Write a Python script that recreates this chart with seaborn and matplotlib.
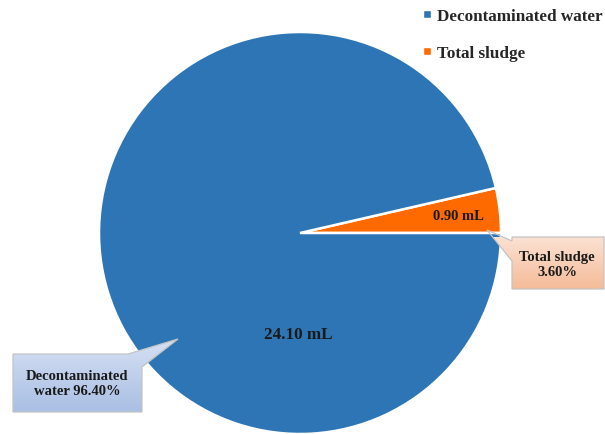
import matplotlib
matplotlib.use("Agg")
import matplotlib.pyplot as plt
import seaborn as sns
import numpy as np
from matplotlib.lines import Line2D
from matplotlib.patches import Polygon
from matplotlib.colors import LinearSegmentedColormap

categories = ["Total sludge", "Decontaminated water"]
volumes_ml = [0.90, 24.10]
percentages = [3.60, 96.40]
colors = ["#FF6A00", "#2E75B6"]
box_grad = [("#FBE2D3", "#F5BB98"), ("#D6E0F3", "#A9BFE4")]

sns.set_theme(style="white")
plt.rcParams['font.family'] = ['Liberation Serif', 'DejaVu Serif']

W, H, CX, CY, R = 605, 435, 300, 234, 201


def px(x, y):
    """Convert pixel position (from top-left) to data coordinates of the pie axes."""
    return ((x - CX) / R, (CY - y) / R)


fig = plt.figure(figsize=(6.05, 4.35), dpi=100)
ax = fig.add_axes([0, 0, 1, 1])
wedges, _ = ax.pie(volumes_ml, colors=colors, startangle=0, counterclock=True,
                   radius=1, wedgeprops=dict(edgecolor='white', linewidth=1.8))
ax.set_xlim(-CX / R, (W - CX) / R)
ax.set_ylim(-(H - CY) / R, CY / R)
ax.set_aspect('equal')
ax.axis('off')

# value labels inside
x0, y0 = px(458, 217)
ax.text(x0, y0, f"{volumes_ml[0]:.2f} mL", ha='center', va='center',
        fontsize=10.5, fontweight='bold', color='#1a1a1a')
x1, y1 = px(298, 333)
ax.text(x1, y1, f"{volumes_ml[1]:.2f} mL", ha='center', va='center_baseline',
        fontsize=12.3, fontweight='bold', color='#1a1a1a')


def callout(poly_px, box_px, text, text_px, grad):
    verts = [px(*p) for p in poly_px]
    patch = Polygon(verts, closed=True, fc='none', ec='#C4C4C4', lw=0.9, zorder=5)
    ax.add_patch(patch)
    (bx0, by0), (bx1, by1) = px(*box_px[0]), px(*box_px[1])
    xs = [v[0] for v in verts]
    ys = [v[1] for v in verts]
    cmap = LinearSegmentedColormap.from_list("g", [grad[1], grad[0]])
    grad_arr = np.linspace(0, 1, 256).reshape(-1, 1)
    im = ax.imshow(grad_arr, cmap=cmap, origin='lower', aspect='auto',
                   extent=[min(xs), max(xs), by1, by0], zorder=4, interpolation='bicubic')
    im.set_clip_path(patch)
    tx, ty = px(*text_px)
    ax.text(tx, ty, text, ha='center', va='center', fontsize=10.5, fontweight='bold',
            color='#1a1a1a', linespacing=1.2, zorder=6)


callout([(512, 238), (604, 238), (604, 290), (512, 290), (512, 262), (487, 231), (512, 242)],
        [(512, 238), (604, 290)], f"{categories[0]}\n{percentages[0]:.2f}%", (557, 265), box_grad[0])
callout([(13, 355), (128, 355), (178, 340), (142, 368), (142, 413), (13, 413)],
        [(13, 340), (142, 413)], "Decontaminated\nwater " + f"{percentages[1]:.2f}%", (77, 384), box_grad[1])

ax.set_xlim(-CX / R, (W - CX) / R)
ax.set_ylim(-(H - CY) / R, CY / R)

handles = [Line2D([0], [0], marker='s', color='w', markerfacecolor=colors[i], markersize=6, lw=0)
           for i in [1, 0]]
labels = [categories[1], categories[0]]
ax.legend(handles, labels, loc='upper right', bbox_to_anchor=(603 / 605, 1 - 9 / 435), frameon=False,
          prop=dict(weight='bold', size=12.3), labelspacing=1.25, handletextpad=0.2,
          handlelength=0.8, borderpad=0, borderaxespad=0)

fig.savefig("out.png", dpi=100)
